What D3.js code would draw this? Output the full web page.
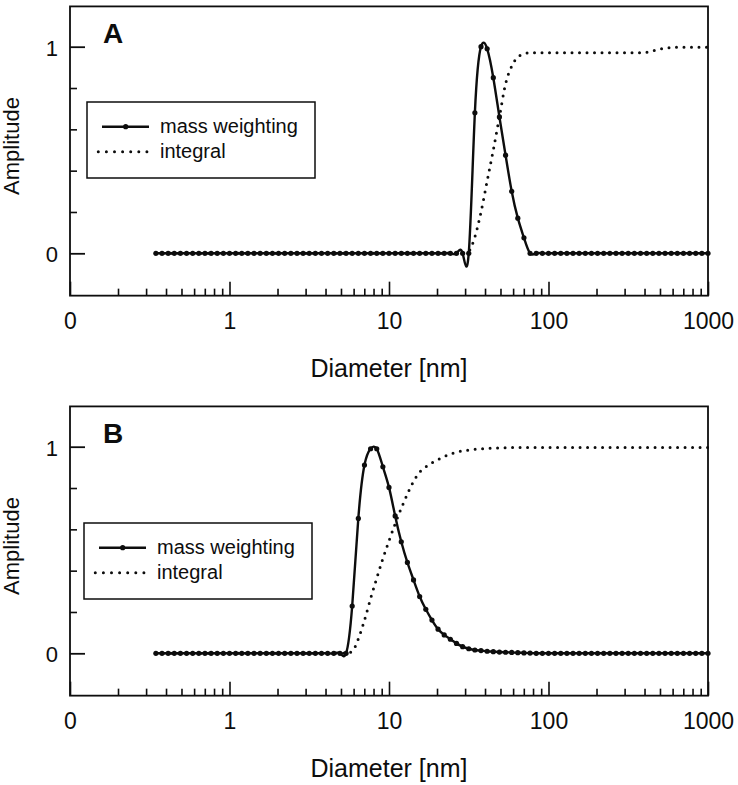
<!DOCTYPE html>
<html>
<head>
<meta charset="utf-8">
<script src="https://cdn.jsdelivr.net/npm/d3@7"></script>
<style>
body { margin: 0; background: white; }
</style>
</head>
<body>
<script>
var w = 738;
var h = 785;
var font = "'Liberation Sans', Arial, Helvetica, sans-serif";

// diameter grid [nm], same for both panels
var diam = [0.3455, 0.3775, 0.4125, 0.4507, 0.4924, 0.538, 0.5878, 0.6422, 0.7017, 0.7667, 0.8377, 0.9153,
  1, 1.093, 1.194, 1.304, 1.425, 1.557, 1.701, 1.859, 2.031, 2.219, 2.425, 2.649, 2.894,
  3.162, 3.455, 3.775, 4.125, 4.507, 4.924, 5.38, 5.878, 6.422, 7.017, 7.667, 8.377, 9.153,
  10, 10.93, 11.94, 13.04, 14.25, 15.57, 17.01, 18.59, 20.31, 22.19, 24.25, 26.49, 28.94,
  31.62, 34.55, 37.75, 41.25, 45.07, 49.24, 53.8, 58.78, 64.22, 70.17, 76.67, 83.77, 91.53,
  100, 109.3, 119.4, 130.4, 142.5, 155.7, 170.1, 185.9, 203.1, 221.9, 242.5, 264.9, 289.4,
  316.2, 345.5, 377.5, 412.5, 450.7, 492.4, 538, 587.8, 642.2, 701.7, 766.7, 837.7, 915.3, 1000];

// panel A
var massA = [0, 0, 0, 0, 0, 0, 0, 0, 0, 0, 0, 0,
  0, 0, 0, 0, 0, 0, 0, 0, 0, 0, 0, 0, 0,
  0, 0, 0, 0, 0, 0, 0, 0, 0, 0, 0, 0, 0,
  0, 0, 0, 0, 0, 0, 0, 0, 0, 0, 0, 0, 0,
  0, 0.68, 1.0, 0.99, 0.85, 0.66, 0.475, 0.30, 0.17, 0.075, 0, 0, 0,
  0, 0, 0, 0, 0, 0, 0, 0, 0, 0, 0, 0, 0,
  0, 0, 0, 0, 0, 0, 0, 0, 0, 0, 0, 0, 0, 0];
var intA = [0, 0, 0, 0, 0, 0, 0, 0, 0, 0, 0, 0,
  0, 0, 0, 0, 0, 0, 0, 0, 0, 0, 0, 0, 0,
  0, 0, 0, 0, 0, 0, 0, 0, 0, 0, 0, 0, 0,
  0, 0, 0, 0, 0, 0, 0, 0, 0, 0, 0, 0, 0,
  0.01, 0.08, 0.20, 0.35, 0.50, 0.66, 0.82, 0.905, 0.95, 0.965, 0.971, 0.971, 0.971,
  0.971, 0.971, 0.971, 0.971, 0.971, 0.971, 0.971, 0.971, 0.971, 0.971, 0.971, 0.971, 0.971,
  0.971, 0.971, 0.971, 0.973, 0.98, 0.988, 0.993, 0.996, 0.997, 0.997, 0.997, 0.997, 0.997, 0.997];

// panel B
var massB = [0, 0, 0, 0, 0, 0, 0, 0, 0, 0, 0, 0,
  0, 0, 0, 0, 0, 0, 0, 0, 0, 0, 0, 0, 0,
  0, 0, 0, 0, 0, 0, 0, 0.229, 0.653, 0.911, 0.99, 0.99, 0.903,
  0.803, 0.665, 0.54, 0.44, 0.355, 0.275, 0.213, 0.161, 0.117, 0.089, 0.068, 0.048, 0.032,
  0.022, 0.016, 0.013, 0.01, 0.008, 0.006, 0.005, 0.004, 0.003, 0.002, 0.001, 0, 0,
  0, 0, 0, 0, 0, 0, 0, 0, 0, 0, 0, 0, 0,
  0, 0, 0, 0, 0, 0, 0, 0, 0, 0, 0, 0, 0, 0];
var intB = [0, 0, 0, 0, 0, 0, 0, 0, 0, 0, 0, 0,
  0, 0, 0, 0, 0, 0, 0, 0, 0, 0, 0, 0, 0,
  0, 0, 0, 0, 0, 0, 0, 0.01, 0.07, 0.16, 0.265, 0.363, 0.458,
  0.544, 0.627, 0.702, 0.771, 0.832, 0.877, 0.902, 0.922, 0.938, 0.952, 0.965, 0.973, 0.98,
  0.984, 0.987, 0.99, 0.992, 0.993, 0.994, 0.995, 0.996, 0.996, 0.996, 0.996, 0.996, 0.996,
  0.996, 0.996, 0.996, 0.996, 0.996, 0.996, 0.996, 0.996, 0.996, 0.996, 0.996, 0.996, 0.996,
  0.996, 0.996, 0.996, 0.996, 0.996, 0.996, 0.996, 0.996, 0.996, 0.996, 0.996, 0.996, 0.996, 0.996];

var xMajor = [0.1, 1, 10, 100, 1000];
var xMinor = [0.2, 0.3, 0.4, 0.5, 0.6, 0.7, 0.8, 0.9,
  2, 3, 4, 5, 6, 7, 8, 9,
  20, 30, 40, 50, 60, 70, 80, 90,
  200, 300, 400, 500, 600, 700, 800, 900];
var yMajor = [0, 1];
var yMinor = [0.2, 0.4, 0.6, 0.8];
var legendLabels = ["mass weighting", "integral"];
var xTitle = "Diameter [nm]";
var yTitle = "Amplitude";

var svg = d3.select("body").append("svg")
    .attr("width", w)
    .attr("height", h)
    .style("background-color", "white");

var x = d3.scaleLog().domain([0.1, 1000]).range([70, 708]);
var ink = "#0d0d0d";

function drawPanel(oy, label, mass, integ, lx, ly) {
  var y = d3.scaleLinear().domain([0, 1]).range([oy + 253.3, oy + 46.7]);
  var yBot = y(-0.205), yTop = y(1.195);

  // x axis, ticks pointing inwards
  svg.append("g")
      .attr("transform", "translate(0," + yBot + ")")
      .call(d3.axisBottom(x).tickValues(xMinor).tickSize(-7).tickFormat(""))
      .call(g => g.select(".domain").remove())
      .call(g => g.selectAll("line").attr("stroke", ink).attr("stroke-width", 1.6));
  svg.append("g")
      .attr("transform", "translate(0," + yBot + ")")
      .call(d3.axisBottom(x).tickValues(xMajor).tickSize(-14).tickPadding(17)
        .tickFormat(d => d < 1 ? "0" : String(d)))
      .call(g => g.select(".domain").remove())
      .call(g => g.selectAll("line").attr("stroke", ink).attr("stroke-width", 1.6))
      .call(g => g.selectAll("text").attr("font-size", 23).attr("font-family", font).attr("fill", ink));

  // y axis
  svg.append("g")
      .attr("transform", "translate(70,0)")
      .call(d3.axisLeft(y).tickValues(yMinor).tickSize(-7).tickFormat(""))
      .call(g => g.select(".domain").remove())
      .call(g => g.selectAll("line").attr("stroke", ink).attr("stroke-width", 1.6));
  svg.append("g")
      .attr("transform", "translate(70,0)")
      .call(d3.axisLeft(y).tickValues(yMajor).tickSize(-15).tickPadding(12).tickFormat(d3.format("d")))
      .call(g => g.select(".domain").remove())
      .call(g => g.selectAll("line").attr("stroke", ink).attr("stroke-width", 1.8))
      .call(g => g.selectAll("text").attr("font-size", 22).attr("font-family", font)
        .attr("fill", ink).attr("dy", "0.38em"));

  // frame
  svg.append("rect")
      .attr("x", x(0.1))
      .attr("y", yTop)
      .attr("width", x(1000) - x(0.1))
      .attr("height", yBot - yTop)
      .attr("fill", "none")
      .attr("stroke", ink)
      .attr("stroke-width", 1.8);

  // integral (dotted)
  var intLine = d3.line()
      .x((d, i) => x(diam[i]))
      .y(d => y(d))
      .curve(d3.curveMonotoneX);
  svg.append("path")
      .datum(integ)
      .attr("d", intLine)
      .attr("fill", "none")
      .attr("stroke", ink)
      .attr("stroke-width", 3)
      .attr("stroke-linecap", "round")
      .attr("stroke-dasharray", "0 7.5");

  // mass weighting, spline through points + markers
  var massLine = d3.line()
      .x((d, i) => x(diam[i]))
      .y(d => y(d))
      .curve(d3.curveNatural);
  svg.append("path")
      .datum(mass)
      .attr("d", massLine)
      .attr("fill", "none")
      .attr("stroke", ink)
      .attr("stroke-width", 2.4);
  svg.append("g").selectAll("circle")
      .data(mass)
      .join("circle")
      .attr("cx", (d, i) => x(diam[i]))
      .attr("cy", d => y(d))
      .attr("r", 2.6)
      .attr("fill", ink);

  // panel letter
  svg.append("text")
      .attr("x", 103)
      .attr("y", oy + 43.3)
      .attr("font-family", font)
      .attr("font-weight", "bold")
      .attr("font-size", 28)
      .attr("fill", ink)
      .text(label);

  // legend
  svg.append("rect")
      .attr("x", lx)
      .attr("y", ly)
      .attr("width", 228)
      .attr("height", 76)
      .attr("fill", "white")
      .attr("stroke", ink)
      .attr("stroke-width", 1.5);
  svg.append("line")
      .attr("x1", lx + 15).attr("x2", lx + 62)
      .attr("y1", ly + 24.7).attr("y2", ly + 24.7)
      .attr("stroke", ink).attr("stroke-width", 2.4);
  svg.append("circle")
      .attr("cx", lx + 38.7).attr("cy", ly + 24.7)
      .attr("r", 2.6).attr("fill", ink);
  svg.append("line")
      .attr("x1", lx + 11.3).attr("x2", lx + 60.3)
      .attr("y1", ly + 49.7).attr("y2", ly + 49.7)
      .attr("stroke", ink).attr("stroke-width", 3)
      .attr("stroke-linecap", "round")
      .attr("stroke-dasharray", "0 8.1");
  svg.append("g").selectAll("text")
      .data(legendLabels)
      .join("text")
      .attr("x", lx + 73)
      .attr("y", (d, i) => ly + 31.3 + i * 25)
      .attr("font-family", font)
      .attr("font-size", 20)
      .attr("fill", ink)
      .text(d => d);

  // axis titles
  svg.append("text")
      .attr("x", x(10))
      .attr("y", oy + 377)
      .attr("text-anchor", "middle")
      .attr("font-family", font)
      .attr("font-size", 25)
      .attr("fill", ink)
      .text(xTitle);
  svg.append("text")
      .attr("transform", "translate(19," + (oy + 146) + ")rotate(-90)")
      .attr("text-anchor", "middle")
      .attr("font-family", font)
      .attr("font-size", 22)
      .attr("fill", ink)
      .text(yTitle);
}

drawPanel(0, "A", massA, intA, 87, 102);
drawPanel(400, "B", massB, intB, 84, 523);
</script>
</body>
</html>
